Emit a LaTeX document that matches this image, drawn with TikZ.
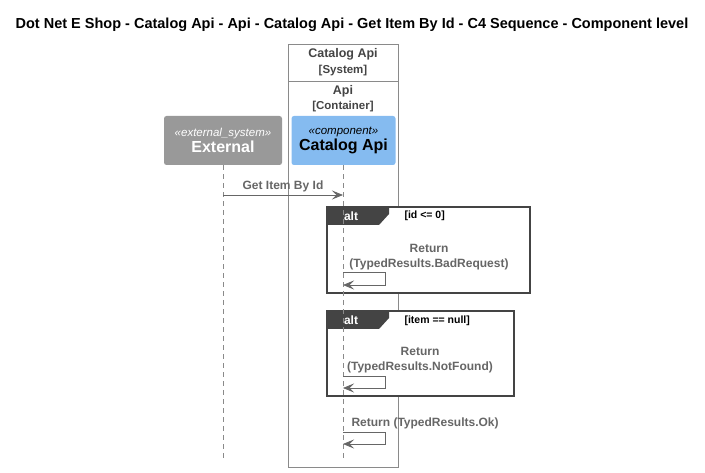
\documentclass[tikz,border=0pt]{standalone}
\usepackage{fontspec}
\setmainfont{Liberation Sans}
\usetikzlibrary{positioning,arrows.meta}
\definecolor{extgray}{HTML}{999999}
\definecolor{compblue}{HTML}{85BBF0}
\definecolor{msggray}{HTML}{666666}
\definecolor{bordergray}{HTML}{444444}
\definecolor{linegray}{HTML}{8A8A8A}

\begin{document}
\begin{tikzpicture}[x=1pt,y=-1pt,
    compbox/.style={rounded corners=2.5pt, minimum width=104pt, minimum height=49pt,
      inner sep=0pt, align=center},
    lifeline/.style={linegray, dash pattern=on 5pt off 4pt, line width=0.6pt},
    msg/.style={msggray, line width=0.8pt, -{Stealth[length=11pt,width=9pt,inset=4.5pt]}},
    msglabel/.style={msggray, font=\bfseries\fontsize{12}{15}\selectfont, align=center},
    altframe/.style={draw=bordergray, line width=1.1pt, fill=white},
    guard/.style={font=\bfseries\fontsize{10.5}{12}\selectfont, anchor=west}]
  \useasboundingbox (0,0) rectangle (705,473);

  % title
  \node[font=\bfseries\fontsize{14.5}{17}\selectfont] (title) at (352,25)
    {Dot Net E Shop - Catalog Api - Api - Catalog Api - Get Item By Id - C4 Sequence - Component level};

  % system / container boundary
  \draw[linegray, line width=0.8pt] (288,44) rectangle (398,467);
  \draw[linegray, line width=0.8pt] (288,81) -- (398,81);
  \node[bordergray, font=\bfseries\fontsize{12.5}{14}\selectfont, align=center] (sys)
    at (343,62) {Catalog Api\\[1.5pt]{\fontsize{11.5}{13}\selectfont[System]}};
  \node[bordergray, font=\bfseries\fontsize{12.5}{14}\selectfont, align=center] (cont)
    at (343,98.5) {Api\\[1.5pt]{\fontsize{11.5}{13}\selectfont[Container]}};

  % alt frames
  \draw[altframe] (327,207) rectangle (530,293);
  \fill[bordergray] (327,207) -- (389,207) -- (389,214) -- (379,225) -- (327,225) -- cycle;
  \node[white, font=\bfseries\fontsize{12}{14}\selectfont] (alt1) at (351,216.5) {alt};
  \node[guard] (g1) at (401,216) {[id <= 0]};

  \draw[altframe] (327,311) rectangle (514,396);
  \fill[bordergray] (327,311) -- (389,311) -- (389,318) -- (379,329) -- (327,329) -- cycle;
  \node[white, font=\bfseries\fontsize{12}{14}\selectfont] (alt2) at (351,320.5) {alt};
  \node[guard] (g2) at (401,321) {[item == null]};

  % participants
  \node[compbox, fill=extgray, text=white, minimum width=118pt] (ext) at (223,140.5)
    {{\itshape\fontsize{11.5}{13}\selectfont «external\_system»}\\[1pt]{\bfseries\fontsize{16}{18}\selectfont External}};
  \node[compbox, fill=compblue, text=black] (api) at (343.5,140.5)
    {{\itshape\fontsize{11.5}{13}\selectfont «component»}\\[1pt]{\bfseries\fontsize{16}{18}\selectfont Catalog Api}};

  % lifelines
  \coordinate (extend) at (223,462);
  \coordinate (apiend) at (343,462);
  \draw[lifeline] (ext.south) -- (extend);
  \draw[lifeline] (api.south -| apiend) -- (apiend);

  % messages
  \coordinate (m1a) at (223,195);
  \coordinate (m1b) at (343,195);
  \draw[msg] (m1a) -- (m1b);
  \node[msglabel] (m1) at (283,186) {Get Item By Id};

  \coordinate (r1a) at (343,272);
  \coordinate (r1b) at (343,285);
  \draw[msg] (r1a) -- ++(42,0) |- (r1b);
  \node[msglabel] (r1) at (429,257.5) {Return\\(TypedResults.BadRequest)};

  \coordinate (r2a) at (343,376);
  \coordinate (r2b) at (343,388);
  \draw[msg] (r2a) -- ++(42,0) |- (r2b);
  \node[msglabel] (r2) at (420,360.5) {Return\\(TypedResults.NotFound)};

  \coordinate (r3a) at (343,432);
  \coordinate (r3b) at (343,444);
  \draw[msg] (r3a) -- ++(42,0) |- (r3b);
  \node[msglabel, anchor=west] (r3) at (348,423) {Return (TypedResults.Ok)};
\end{tikzpicture}
\end{document}
